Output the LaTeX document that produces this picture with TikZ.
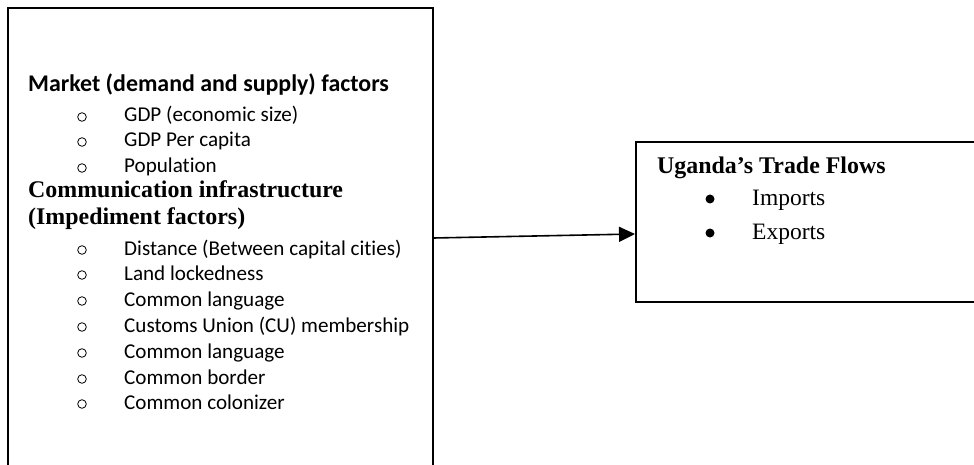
\documentclass[tikz,border=0pt]{standalone}
\usepackage{fontspec}
\setmainfont{Liberation Serif}
\newfontfamily\calibri[RawFeature={-liga}]{Carlito}
\usetikzlibrary{arrows.meta}
\tikzset{
  boxline/.style={draw=black, line width=1.6pt},
  item/.style={anchor=base west, inner sep=0pt, font=\calibri\fontsize{21.1}{25}\selectfont},
  obullet/.style={circle, draw=black, line width=0.8pt, inner sep=0pt, minimum size=8.6pt},
  mhead/.style={anchor=base west, inner sep=0pt, font=\calibri\bfseries\fontsize{23.9}{28}\selectfont},
  thead/.style={anchor=base west, inner sep=0pt, font=\bfseries\fontsize{23.9}{28}\selectfont},
  titem/.style={anchor=base west, inner sep=0pt, font=\fontsize{23.5}{27}\selectfont},
  dbullet/.style={circle, fill=black, inner sep=0pt, minimum size=9pt},
  flow/.style={line width=1.6pt, -{Triangle[length=16pt,width=15pt]}}
}
\begin{document}
\begin{tikzpicture}[x=1pt,y=-1pt]
\useasboundingbox (0,0) rectangle (974,465);
\clip (0,0) rectangle (974,465);
% boxes
\node[boxline, rectangle, minimum width=425pt, minimum height=480pt, inner sep=0pt, anchor=north west] (leftbox) at (7,7) {};
\node[boxline, rectangle, minimum width=360pt, minimum height=160pt, inner sep=0pt, anchor=north west] (rightbox) at (635,141) {};
% left box text
\node[mhead] (h1) at (28,92) {Market (demand and supply) factors};
\node[obullet] (b1) at (82,117) {}; \node[item] (t1) at (124,122) {GDP (economic size)};
\node[obullet] (b2) at (82,142) {}; \node[item] (t2) at (124,147) {GDP Per capita};
\node[obullet] (b3) at (82,168) {}; \node[item] (t3) at (124,173) {Population};
\node[thead] (h2) at (28,197) {Communication infrastructure};
\node[thead] (h3) at (28,224) {(Impediment factors)};
\node[obullet] (b4) at (82,250) {}; \node[item] (t4) at (124,255) {Distance (Between capital cities)};
\node[obullet] (b5) at (82,275) {}; \node[item] (t5) at (124,280) {Land lockedness};
\node[obullet] (b6) at (82,301) {}; \node[item] (t6) at (124,306) {Common language};
\node[obullet] (b7) at (82,327) {}; \node[item] (t7) at (124,332) {Customs Union (CU) membership};
\node[obullet] (b8) at (82,353) {}; \node[item] (t8) at (124,358) {Common language};
\node[obullet] (b9) at (82,379) {}; \node[item] (t9) at (124,384) {Common border};
\node[obullet] (b10) at (82,404) {}; \node[item] (t10) at (124,409) {Common colonizer};
% right box text
\node[thead] (h4) at (657,174) {Uganda’s Trade Flows};
\node[dbullet] (r1) at (710,199) {}; \node[titem] (u1) at (752,206) {Imports};
\node[dbullet] (r2) at (710,233) {}; \node[titem] (u2) at (752,240) {Exports};
% connector
\coordinate (from) at (leftbox.east |- 0,238);
\coordinate (to) at (rightbox.west |- 0,234);
\draw[flow] (from) -- (to);
\end{tikzpicture}
\end{document}
